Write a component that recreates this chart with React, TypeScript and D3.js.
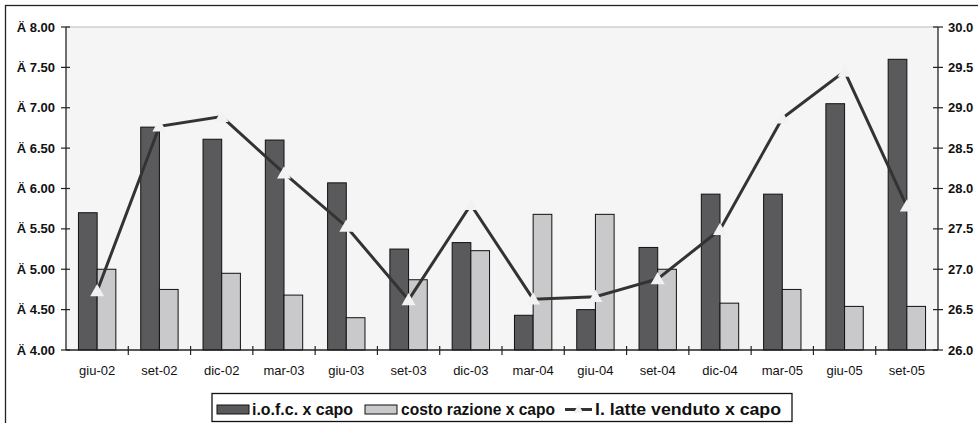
import React from 'react'
import * as d3 from 'd3'

const categories = ['giu-02', 'set-02', 'dic-02', 'mar-03', 'giu-03', 'set-03', 'dic-03', 'mar-04', 'giu-04', 'set-04', 'dic-04', 'mar-05', 'giu-05', 'set-05']
const iofc = [5.70, 6.76, 6.61, 6.60, 6.07, 5.25, 5.33, 4.43, 4.50, 5.27, 5.93, 5.93, 7.05, 7.60]
const costoRazione = [5.00, 4.75, 4.95, 4.68, 4.40, 4.87, 5.23, 5.68, 5.68, 5.00, 4.58, 4.75, 4.54, 4.54]
const latte = [26.73, 28.77, 28.89, 28.19, 27.53, 26.62, 27.80, 26.63, 26.66, 26.88, 27.49, 28.87, 29.45, 27.78]
const leftTicks = [4, 4.5, 5, 5.5, 6, 6.5, 7, 7.5, 8]
const rightTicks = [26, 26.5, 27, 27.5, 28, 28.5, 29, 29.5, 30]

const W = 978
const H = 423
const plot = { left: 66, right: 938, top: 27, bottom: 350 }
const font = 'Liberation Sans, Arial, sans-serif'

export default function App() {
  const x = d3.scaleBand<string>().domain(categories).range([plot.left, plot.right])
  const bw = x.bandwidth()
  const barW = bw * 0.3
  const yL = d3.scaleLinear().domain([4, 8]).range([plot.bottom, plot.top])
  const yR = d3.scaleLinear().domain([26, 30]).range([plot.bottom, plot.top])
  const cx = (c: string) => (x(c) ?? 0) + bw / 2

  const line = d3.line<number>()
    .x((_, i) => cx(categories[i]))
    .y(d => yR(d))

  const tri = (px: number, py: number, s = 7) =>
    `M${px},${py - s} L${px + s},${py + s * 0.75} L${px - s},${py + s * 0.75} Z`

  return (
    <svg width={W} height={H} style={{ position: 'absolute', left: 0, top: 0, display: 'block' }}>
      <rect x={0} y={0} width={W} height={H} fill="#fff" />
      {/* outer chart border (cropped) */}
      <rect x={5.5} y={5.5} width={W + 20} height={H + 20} fill="none" stroke="#222" strokeWidth={1.3} />

      {/* plot area */}
      <rect x={plot.left} y={plot.top} width={plot.right - plot.left} height={plot.bottom - plot.top} fill="#f5f5f5" />
      <line x1={plot.left} x2={plot.right} y1={plot.top} y2={plot.top} stroke="#bbb" strokeWidth={1} />

      {/* bars */}
      {categories.map((c, i) => (
        <g key={c}>
          <rect x={cx(c) - barW} y={yL(iofc[i])} width={barW} height={plot.bottom - yL(iofc[i])}
            fill="#5a5a5c" stroke="#111" strokeWidth={1} />
          <rect x={cx(c)} y={yL(costoRazione[i])} width={barW} height={plot.bottom - yL(costoRazione[i])}
            fill="#c9c9cb" stroke="#111" strokeWidth={1} />
        </g>
      ))}

      {/* line */}
      <path d={line(latte) ?? ''} fill="none" stroke="#333" strokeWidth={3} />
      {latte.map((v, i) => (
        <path key={i} d={tri(cx(categories[i]), yR(v))} fill="#f2f2f2" />
      ))}

      {/* axes */}
      <line x1={plot.left} x2={plot.left} y1={plot.top} y2={plot.bottom} stroke="#222" strokeWidth={1.3} />
      <line x1={plot.right} x2={plot.right} y1={plot.top} y2={plot.bottom} stroke="#222" strokeWidth={1.3} />
      <line x1={plot.left} x2={plot.right} y1={plot.bottom} y2={plot.bottom} stroke="#222" strokeWidth={1.3} />

      {leftTicks.map(t => (
        <g key={'l' + t}>
          <line x1={plot.left - 5} x2={plot.left + 4} y1={yL(t)} y2={yL(t)} stroke="#222" strokeWidth={1.2} />
          <text x={55} y={yL(t)} dy="0.35em" textAnchor="end" fontFamily={font} fontWeight="bold" fontSize={13} fill="#111">
            {'Ä ' + t.toFixed(2)}
          </text>
        </g>
      ))}
      {rightTicks.map(t => (
        <g key={'r' + t}>
          <line x1={plot.right - 5} x2={plot.right + 5} y1={yR(t)} y2={yR(t)} stroke="#222" strokeWidth={1.2} />
          <text x={948} y={yR(t)} dy="0.35em" fontFamily={font} fontWeight="bold" fontSize={13} fill="#111">
            {t.toFixed(1)}
          </text>
        </g>
      ))}
      {categories.map((c, i) => (
        <g key={'x' + c}>
          {i > 0 && <line x1={x(c)} x2={x(c)} y1={plot.bottom - 4} y2={plot.bottom + 5} stroke="#222" strokeWidth={1.2} />}
          <text x={cx(c)} y={370} dy="0.35em" textAnchor="middle" fontFamily={font} fontSize={13} fill="#111">{c}</text>
        </g>
      ))}

      {/* legend */}
      <rect x={212} y={393.5} width={580} height={28} fill="#fff" stroke="#111" strokeWidth={1.3} />
      <rect x={217} y={405} width={32} height={9} fill="#5a5a5c" stroke="#111" strokeWidth={1} />
      <text x={252} y={409.5} dy="0.35em" fontFamily={font} fontWeight="bold" fontSize={16} fill="#111"
        textLength={101} lengthAdjust="spacingAndGlyphs">i.o.f.c. x capo</text>
      <rect x={365} y={405} width={32} height={9} fill="#c9c9cb" stroke="#111" strokeWidth={1} />
      <text x={401} y={409.5} dy="0.35em" fontFamily={font} fontWeight="bold" fontSize={16} fill="#111"
        textLength={154} lengthAdjust="spacingAndGlyphs">costo razione x capo</text>
      <line x1={565} x2={592} y1={409.5} y2={409.5} stroke="#333" strokeWidth={3} />
      <path d={tri(578.5, 409.5, 5)} fill="#f2f2f2" />
      <text x={595} y={409.5} dy="0.35em" fontFamily={font} fontWeight="bold" fontSize={16} fill="#111"
        textLength={186} lengthAdjust="spacingAndGlyphs">l. latte venduto x capo</text>
    </svg>
  )
}
